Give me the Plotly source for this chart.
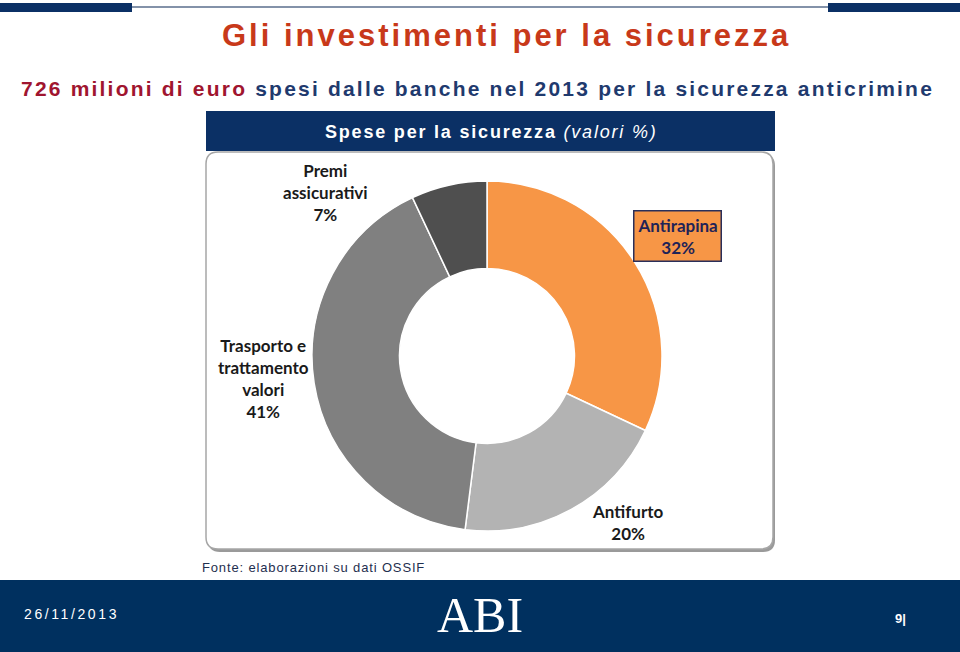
import plotly.graph_objects as go

# ---------------- data ----------------
categories = ["Antirapina", "Antifurto", "Trasporto e<br>trattamento<br>valori", "Premi<br>assicurativi"]
values = [32, 20, 41, 7]
slice_colors = ["#F79646", "#B3B3B3", "#808080", "#4F4F4F"]

title_text = "Gli investimenti per la sicurezza"
subtitle_red = "726 milioni di euro"
subtitle_blue = "spesi dalle banche nel 2013 per la sicurezza anticrimine"
header_bold = "Spese per la sicurezza"
header_italic = "(valori %)"
source_text = "Fonte: elaborazioni su dati OSSIF"
date_text = "26/11/2013"
logo_text = "ABI"
page_text = "9|"

W, H = 960, 652
NAVY = "#0B3065"


def px(x):
    return x / W


def py(y):
    return 1 - y / H


def spaced(txt, sp):
    return f"<span style='letter-spacing:{sp}px'>{txt}</span>"


# donut geometry (pixels)
cx, cy, r = 487, 356, 175

fig = go.Figure()
fig.add_trace(go.Pie(
    labels=[c.replace("<br>", " ") for c in categories],
    values=values,
    marker=dict(colors=slice_colors, line=dict(color="white", width=1.5)),
    hole=0.5,
    sort=False,
    direction="clockwise",
    rotation=0,
    textinfo="none",
    hoverinfo="label+percent",
    showlegend=False,
    domain=dict(x=[px(cx - r), px(cx + r)], y=[py(cy + r), py(cy - r)]),
))

shapes = []
# top decorative bars
shapes.append(dict(type="rect", xref="paper", yref="paper", x0=px(0), x1=px(132), y0=py(12), y1=py(3),
                   fillcolor=NAVY, line=dict(width=0), layer="below"))
shapes.append(dict(type="rect", xref="paper", yref="paper", x0=px(828), x1=px(960), y0=py(12), y1=py(3),
                   fillcolor=NAVY, line=dict(width=0), layer="below"))
shapes.append(dict(type="line", xref="paper", yref="paper", x0=px(132), x1=px(828), y0=py(7), y1=py(7),
                   line=dict(color="#5A6E8C", width=1.5), layer="below"))


def rounded_path(x0, y0, x1, y1, rad):
    X = lambda v: px(v)
    Y = lambda v: py(v)
    return (f"M {X(x0 + rad)},{Y(y0)} L {X(x1 - rad)},{Y(y0)} "
            f"Q {X(x1)},{Y(y0)} {X(x1)},{Y(y0 + rad)} L {X(x1)},{Y(y1 - rad)} "
            f"Q {X(x1)},{Y(y1)} {X(x1 - rad)},{Y(y1)} L {X(x0 + rad)},{Y(y1)} "
            f"Q {X(x0)},{Y(y1)} {X(x0)},{Y(y1 - rad)} L {X(x0)},{Y(y0 + rad)} "
            f"Q {X(x0)},{Y(y0)} {X(x0 + rad)},{Y(y0)} Z")


# white rounded box with gray border (shadow first)
shapes.append(dict(type="path", xref="paper", yref="paper", path=rounded_path(208, 154, 775, 552, 12),
                   fillcolor="#9A9A9A", line=dict(width=0), layer="below"))
shapes.append(dict(type="path", xref="paper", yref="paper", path=rounded_path(206, 152, 773, 549, 12),
                   fillcolor="white", line=dict(color="#A6A6A6", width=1.5), layer="below"))

# header bar
shapes.append(dict(type="rect", xref="paper", yref="paper", x0=px(206), x1=px(775), y0=py(151), y1=py(111),
                   fillcolor=NAVY, line=dict(width=0), layer="below"))

# bottom bar
shapes.append(dict(type="rect", xref="paper", yref="paper", x0=0, x1=1, y0=0, y1=py(580),
                   fillcolor="#00305F", line=dict(width=0), layer="below"))

ann = []
ann.append(dict(x=px(506), y=py(35), text=f"<b>{spaced(title_text, 3)}</b>",
                font=dict(family="Liberation Sans, Arial", size=31, color="#C8391A")))
ann.append(dict(x=px(477), y=py(88),
                text=(f"<b><span style='color:#A0152F;letter-spacing:2.2px'>{subtitle_red}</span>"
                      f"{spaced(' ' + subtitle_blue, 2.2)}</b>"),
                font=dict(family="Liberation Sans, Arial", size=21, color="#1F3A6E")))
ann.append(dict(x=px(491), y=py(132),
                text=f"<b>{spaced(header_bold, 1.8)}</b>{spaced(' ', 1.8)}<i>{spaced(header_italic, 1.8)}</i>",
                font=dict(family="Liberation Sans, Arial", size=18, color="white")))

lab_font = dict(family="Lato, Open Sans", size=17, color="#1A1A1A")
ann.append(dict(x=px(325), y=py(192), text=f"<b>{categories[3]}<br>{values[3]}%</b>", font=lab_font))
ann.append(dict(x=px(263), y=py(378), text=f"<b>{categories[2]}<br>{values[2]}%</b>", font=lab_font))
ann.append(dict(x=px(627), y=py(522), text=f"<b>{categories[1]}<br>{values[1]}%</b>", font=lab_font))
ann.append(dict(x=px(677), y=py(236), text=f"<b>{categories[0]}<br>{values[0]}%</b>",
                font=dict(family="Lato, Open Sans", size=17, color="#1F2357"),
                bgcolor="#F79646", bordercolor="#2A2F5A", borderwidth=1.5, borderpad=3))

ann.append(dict(x=px(200), y=py(567), text=spaced(source_text, 0.85), xanchor="left",
                font=dict(family="Liberation Sans, Arial", size=13, color="#1F2F4F")))
ann.append(dict(x=px(22), y=py(614), text=spaced(date_text, 2.6), xanchor="left",
                font=dict(family="Liberation Sans, Arial", size=14, color="white")))
ann.append(dict(x=px(480), y=py(615), text=logo_text,
                font=dict(family="Liberation Serif, Times New Roman", size=50, color="white")))
ann.append(dict(x=px(900), y=py(618), text=f"<b>{page_text}</b>",
                font=dict(family="Liberation Sans, Arial", size=13, color="white")))

for a in ann:
    a.setdefault("xref", "paper")
    a.setdefault("yref", "paper")
    a.setdefault("showarrow", False)
    a.setdefault("xanchor", "center")
    a.setdefault("yanchor", "middle")

fig.update_layout(
    width=W, height=H,
    margin=dict(l=0, r=0, t=0, b=0),
    paper_bgcolor="white",
    plot_bgcolor="white",
    shapes=shapes,
    annotations=ann,
)

fig.write_html("out.html", config={"displayModeBar": False})
